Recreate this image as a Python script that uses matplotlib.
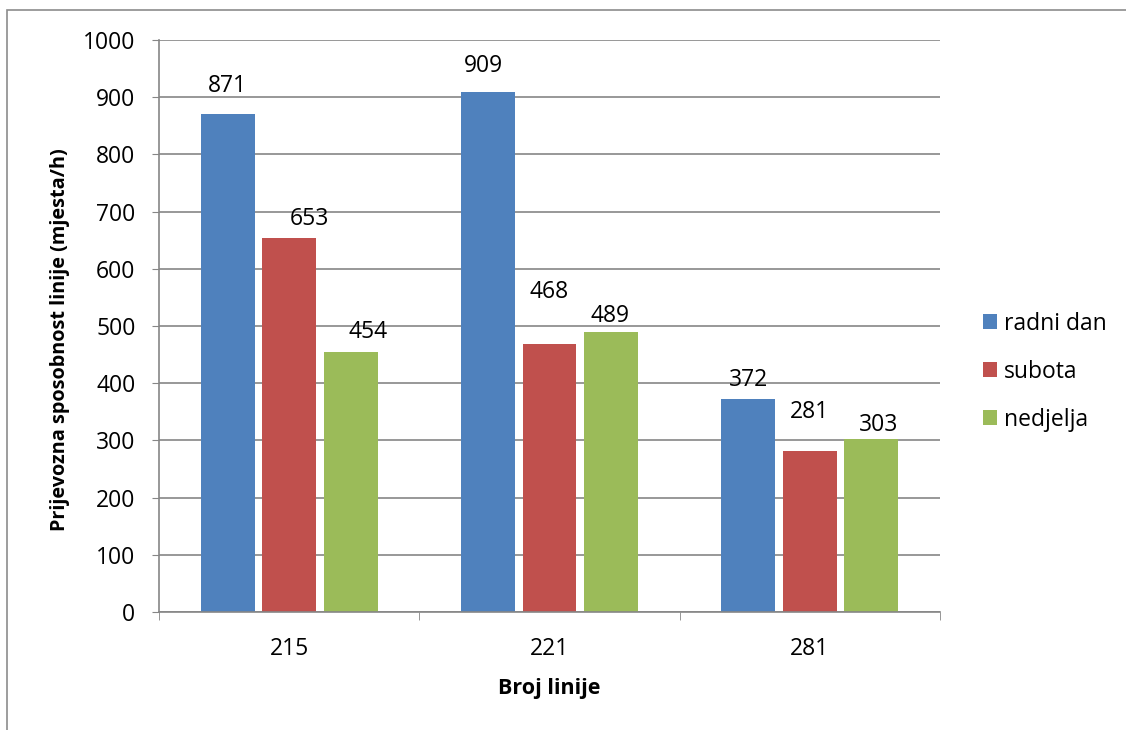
import matplotlib.pyplot as plt
from matplotlib.patches import Rectangle
import numpy as np

# podaci
linije = ["215", "221", "281"]
radni_dan = [871, 909, 372]
subota = [653, 468, 281]
nedjelja = [454, 489, 303]
serije = ["radni dan", "subota", "nedjelja"]

boje = ["#4F81BD", "#C0504D", "#9BBB59"]
# pomak oznaka (pikseli) kao u originalu
pomak = [[(0, 28), (20, 19), (17, 20)],
         [(-5, 26), (0, 52), (-1, 16)],
         [(0, 19), (0, 39), (7, 14)]]

plt.rcParams['font.family'] = ['Open Sans', 'DejaVu Sans']

fig = plt.figure(figsize=(11.26, 7.3), dpi=100)
fig.patches.append(Rectangle((7/1126, -0.05), 1.1, 1 - 10/730 + 0.05,
                             transform=fig.transFigure, fill=False,
                             edgecolor="#8c8c8c", linewidth=1.2))
ax = fig.add_axes([159/1126, 1 - 612/730, (940 - 159)/1126, (612 - 40)/730])

x = np.arange(len(linije))
sirina = 0.207
razmak = 0.236
podaci = [radni_dan, subota, nedjelja]
for i, (vals, ime) in enumerate(zip(podaci, serije)):
    pos = x + (i - 1) * razmak
    ax.bar(pos, vals, sirina, color=boje[i], label=ime, zorder=3)
    for j, v in enumerate(vals):
        dx, dy = pomak[j][i]
        ax.annotate(str(v), (pos[j], v), xytext=(dx, dy), textcoords="offset pixels",
                    ha="center", va="center", fontsize=16.5, color="black")

ax.set_xlim(-0.5, 2.5)
ax.set_ylim(0, 1000)
ax.set_yticks(range(0, 1001, 100))
ax.set_xticks(x)
ax.set_xticklabels(linije)
ax.set_xticks([-0.5, 0.5, 1.5, 2.5], minor=True)
ax.tick_params(axis="x", which="major", length=0, pad=18, labelsize=16.5)
ax.tick_params(axis="x", which="minor", length=6, color="#868686", direction="out")
ax.tick_params(axis="y", length=5, color="#868686", labelsize=16.5, pad=12)
ax.grid(axis="y", color="#868686", linewidth=1.2, zorder=0)
for s in ["top", "right"]:
    ax.spines[s].set_visible(False)
for s in ["left", "bottom"]:
    ax.spines[s].set_color("#868686")
    ax.spines[s].set_linewidth(1.2)
ax.spines["bottom"].set_zorder(4)

ax.set_xlabel("Broj linije", fontsize=15.5, fontweight="bold", labelpad=12)
ax.set_ylabel("Prijevozna sposobnost linije (mjesta/h)", fontsize=14.3,
              fontweight="bold")
ax.yaxis.set_label_coords(-0.114, 0.476)

ax.legend(loc="center left", bbox_to_anchor=(1.055, 0.42), bbox_transform=ax.transAxes,
          frameon=False, borderpad=0, borderaxespad=0,
          fontsize=16.5, handlelength=0.61, handleheight=0.61,
          handletextpad=0.3, labelspacing=1.05)

plt.savefig("out.png", dpi=100)
